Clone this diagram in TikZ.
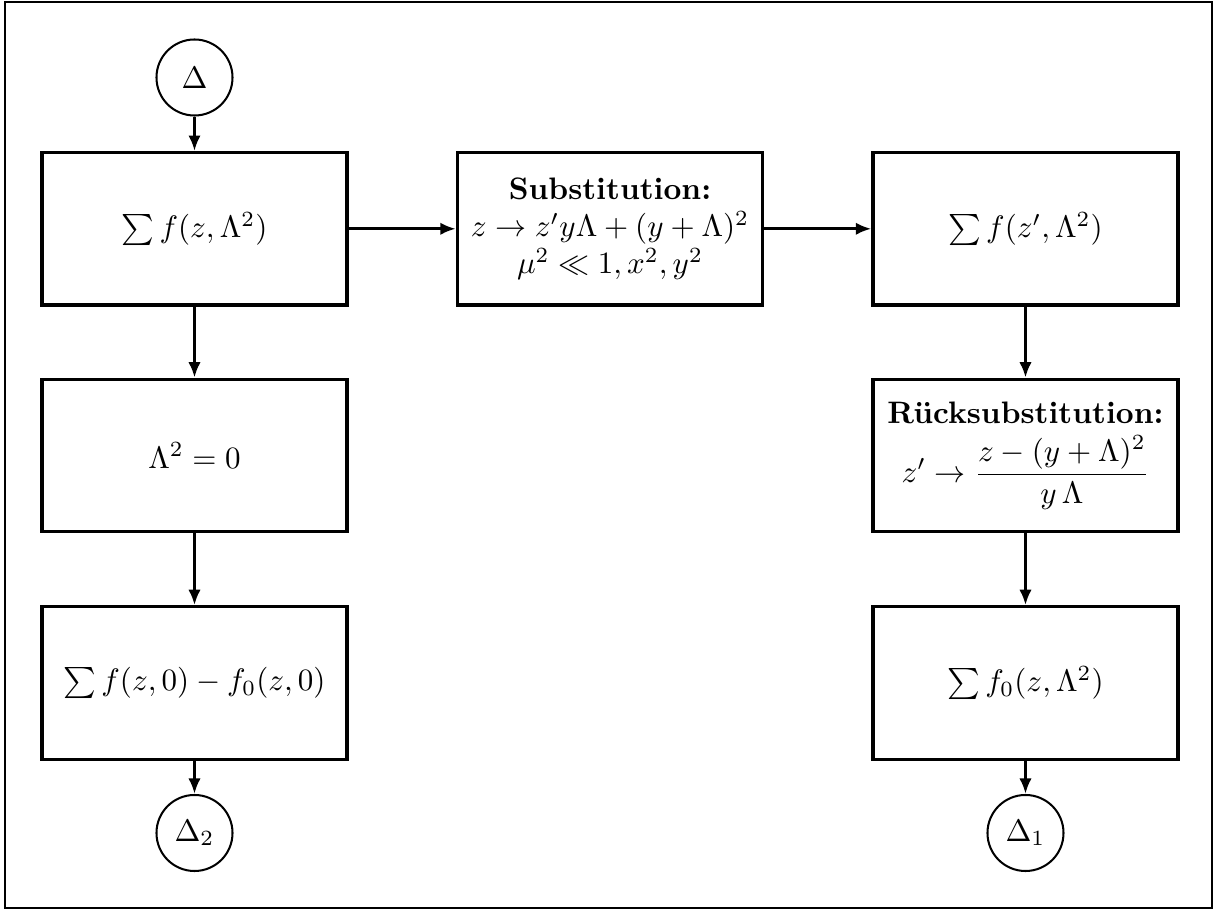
\documentclass[tikz,border=0pt]{standalone}
\usepackage{amsmath}
\usepackage{fontspec}
\usetikzlibrary{arrows.meta}
\begin{document}
\begin{tikzpicture}[x=0.3222pt,y=-0.3222pt,
  procbox/.style={draw,line width=1pt,minimum width=98.3pt,minimum height=49.1pt,align=center,inner sep=2pt},
  term/.style={draw,circle,line width=0.65pt,minimum size=24.5pt,inner sep=0pt},
  flow/.style={line width=1pt,-{Latex[length=5pt,width=4pt]}}]
\useasboundingbox (0,0) rectangle (1214,910);
\draw[line width=0.65pt] (5,2) rectangle (1212,908);
\node[term] (d0) at (194.5,77.5) {$\Delta$};
\node[procbox] (b1) at (194.5,228.8) {$\sum f(z,\Lambda^2)$};
\node[procbox] (sub) at (610,228.8) {\textbf{Substitution:}\\ $z\to z'y\Lambda+(y+\Lambda)^2$\\ $\mu^2\ll 1, x^2, y^2$};
\node[procbox] (b3) at (1025.5,228.8) {$\sum f(z',\Lambda^2)$};
\node[procbox] (b2) at (194.5,455.5) {$\Lambda^2=0$};
\node[procbox] (rs) at (1025.5,455.5) {\textbf{Rücksubstitution:}\\[3pt] $z'\to\dfrac{z-(y+\Lambda)^2}{y\,\Lambda}$};
\node[procbox] (b4) at (194.5,683) {$\sum f(z,0)-f_0(z,0)$};
\node[procbox] (b5) at (1025.5,683) {$\sum f_0(z,\Lambda^2)$};
\node[term] (d2) at (194.5,833) {$\Delta_2$};
\node[term] (d1) at (1025.5,833) {$\Delta_1$};
\draw[flow] (d0) -- (b1);
\draw[flow] (b1) -- (sub);
\draw[flow] (sub) -- (b3);
\draw[flow] (b1) -- (b2);
\draw[flow] (b2) -- (b4);
\draw[flow] (b4) -- (d2);
\draw[flow] (b3) -- (rs);
\draw[flow] (rs) -- (b5);
\draw[flow] (b5) -- (d1);
\end{tikzpicture}
\end{document}
